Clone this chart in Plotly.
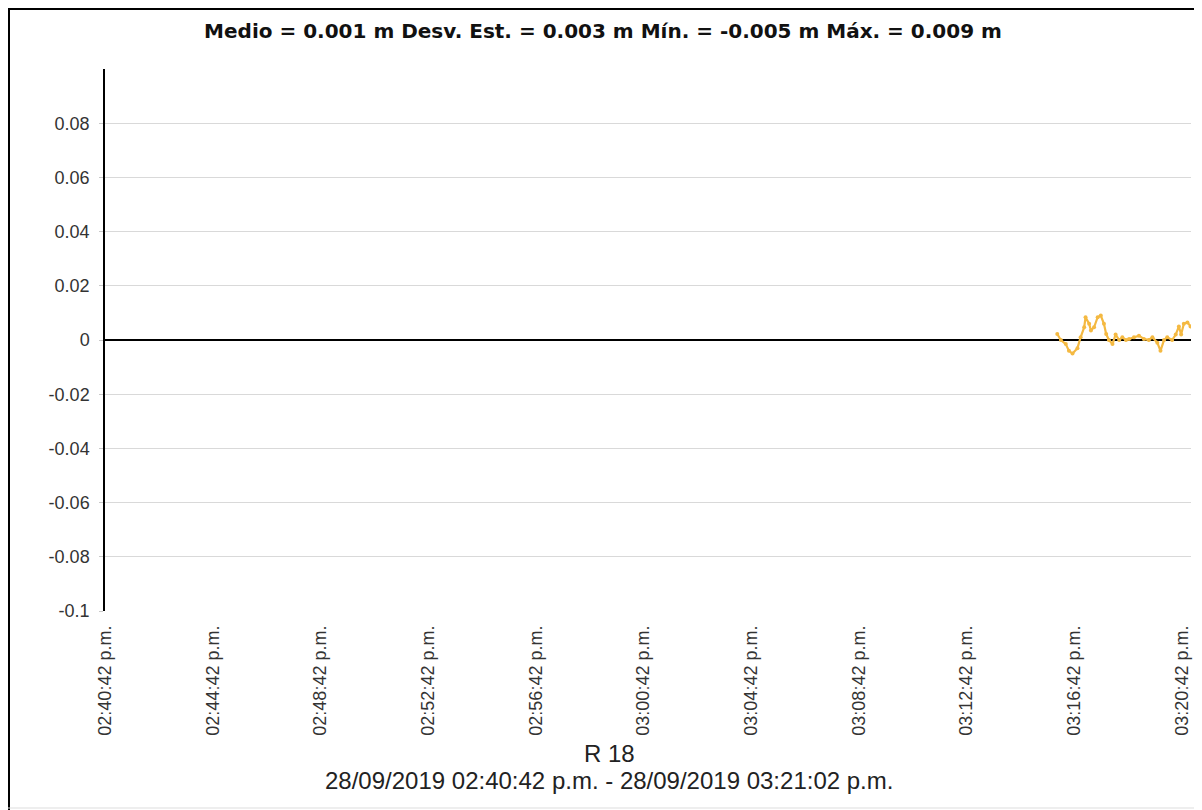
import plotly.graph_objects as go

# ---- data ----
times = [
    "2019-09-28 15:16:04", "2019-09-28 15:16:12", "2019-09-28 15:16:23", "2019-09-28 15:16:30",
    "2019-09-28 15:16:38", "2019-09-28 15:16:49", "2019-09-28 15:16:56", "2019-09-28 15:17:04",
    "2019-09-28 15:17:07", "2019-09-28 15:17:15", "2019-09-28 15:17:19", "2019-09-28 15:17:26",
    "2019-09-28 15:17:34", "2019-09-28 15:17:41", "2019-09-28 15:17:48", "2019-09-28 15:17:53",
    "2019-09-28 15:17:59", "2019-09-28 15:18:07", "2019-09-28 15:18:14", "2019-09-28 15:18:22",
    "2019-09-28 15:18:29", "2019-09-28 15:18:37", "2019-09-28 15:18:44", "2019-09-28 15:18:55",
    "2019-09-28 15:19:06", "2019-09-28 15:19:17", "2019-09-28 15:19:28", "2019-09-28 15:19:36",
    "2019-09-28 15:19:47", "2019-09-28 15:19:54", "2019-09-28 15:20:02", "2019-09-28 15:20:09",
    "2019-09-28 15:20:20", "2019-09-28 15:20:28", "2019-09-28 15:20:35", "2019-09-28 15:20:40",
    "2019-09-28 15:20:46", "2019-09-28 15:20:54", "2019-09-28 15:21:01",
]
values = [
    0.0022, 0.0000, -0.0015, -0.0040,
    -0.0050, -0.0030, 0.0010, 0.0047,
    0.0084, 0.0060, 0.0035, 0.0047,
    0.0084, 0.0090, 0.0060, 0.0022,
    0.0000, -0.0015, 0.0020, 0.0000,
    0.0010, 0.0000, 0.0004, 0.0010,
    0.0016, 0.0004, 0.0000, 0.0010,
    -0.0010, -0.0040, 0.0000, 0.0010,
    0.0000, 0.0020, 0.0050, 0.0020,
    0.0060, 0.0065, 0.0050,
]

x_tick_vals = [
    "2019-09-28 14:40:42", "2019-09-28 14:44:42", "2019-09-28 14:48:42", "2019-09-28 14:52:42",
    "2019-09-28 14:56:42", "2019-09-28 15:00:42", "2019-09-28 15:04:42", "2019-09-28 15:08:42",
    "2019-09-28 15:12:42", "2019-09-28 15:16:42", "2019-09-28 15:20:42",
]
x_tick_text = [
    "02:40:42 p.m.", "02:44:42 p.m.", "02:48:42 p.m.", "02:52:42 p.m.",
    "02:56:42 p.m.", "03:00:42 p.m.", "03:04:42 p.m.", "03:08:42 p.m.",
    "03:12:42 p.m.", "03:16:42 p.m.", "03:20:42 p.m.",
]
x_range = ["2019-09-28 14:40:42", "2019-09-28 15:21:02"]
y_tick_vals = [-0.1, -0.08, -0.06, -0.04, -0.02, 0, 0.02, 0.04, 0.06, 0.08]
y_tick_text = ["-0.1", "-0.08", "-0.06", "-0.04", "-0.02", "0", "0.02", "0.04", "0.06", "0.08"]
y_range = [-0.1, 0.1]

title_text = "Medio = 0.001 m Desv. Est. = 0.003 m Mín. = -0.005 m Máx. = 0.009 m"
sub1 = "R 18"
sub2 = "28/09/2019 02:40:42 p.m. - 28/09/2019 03:21:02 p.m."

# ---- layout geometry (page body has an 8px margin) ----
OFF = 8
W, H = 1202 - OFF, 810 - OFF
L, R, T, B = 97, 11, 61, 199
pw, ph = W - L - R, H - T - B

def px_x(p):
    return (p - OFF - L) / pw

def px_y(p):
    return (H - B - (p - OFF)) / ph

FONT = "Liberation Sans, Arial, sans-serif"

fig = go.Figure()
fig.add_trace(go.Scatter(
    x=times, y=values, mode="lines+markers",
    line=dict(color="#F4B942", width=2.2),
    marker=dict(color="#F4B942", size=4),
    showlegend=False, hoverinfo="x+y",
))

fig.update_layout(
    width=W, height=H,
    margin=dict(l=L, r=R, t=T, b=B),
    paper_bgcolor="white", plot_bgcolor="white",
    font=dict(family=FONT, color="#222222", size=18),
    title=dict(text="<b>" + title_text + "</b>", x=(603 - OFF) / W,
               xanchor="center", y=1 - (31 - OFF) / H, yanchor="middle",
               font=dict(family="DejaVu Sans, sans-serif", size=20, color="#111111")),
    xaxis=dict(
        type="date", range=x_range, tickvals=x_tick_vals, ticktext=x_tick_text,
        tickangle=-90, showgrid=False, zeroline=False, showline=False,
        ticks="", ticklabelstandoff=10, tickfont=dict(size=18, color="#333333"),
    ),
    yaxis=dict(
        range=y_range, tickvals=y_tick_vals, ticktext=y_tick_text,
        showgrid=True, gridcolor="#D9D9D9", gridwidth=1,
        zeroline=True, zerolinecolor="#000000", zerolinewidth=1.5,
        showline=True, linecolor="#000000", linewidth=1.5,
        ticks="outside", ticklen=4, tickcolor="#C8C8C8",
        ticklabelstandoff=6,
        tickfont=dict(size=18, color="#333333"),
    ),
    annotations=[
        dict(text=sub1, xref="paper", yref="paper", x=px_x(609), y=px_y(753),
             xanchor="center", yanchor="middle", showarrow=False,
             font=dict(family=FONT, size=24, color="#222222")),
        dict(text=sub2, xref="paper", yref="paper", x=px_x(609), y=px_y(780),
             xanchor="center", yanchor="middle", showarrow=False,
             font=dict(family=FONT, size=24, color="#222222")),
    ],
    shapes=[
        dict(type="line", xref="paper", yref="paper", x0=px_x(8), x1=px_x(1202),
             y0=px_y(9), y1=px_y(9), line=dict(color="#000000", width=2)),
        dict(type="line", xref="paper", yref="paper", x0=px_x(9), x1=px_x(9),
             y0=px_y(8), y1=px_y(810), line=dict(color="#000000", width=2)),
        dict(type="line", xref="paper", yref="paper", x0=px_x(8), x1=px_x(1201),
             y0=px_y(808), y1=px_y(808), line=dict(color="#DDDDDD", width=1)),
        dict(type="line", xref="paper", yref="paper", x0=px_x(1200), x1=px_x(1200),
             y0=px_y(8), y1=px_y(808), line=dict(color="#DDDDDD", width=1)),
    ],
)

fig.write_html("out.html")
